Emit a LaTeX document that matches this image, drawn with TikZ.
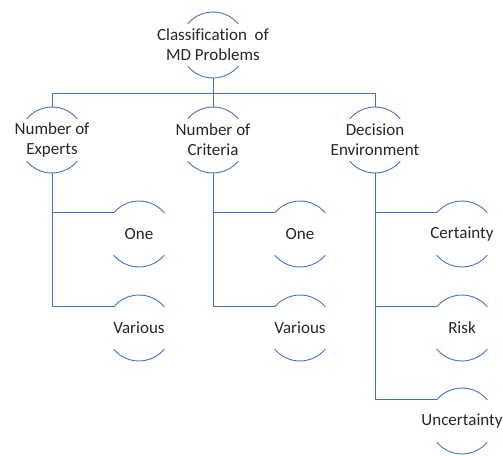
\documentclass[tikz,border=0pt]{standalone}
\usepackage{fontspec}
\setmainfont[Ligatures=NoCommon]{Carlito}
\usepackage{tikz}
\usetikzlibrary{arrows.meta,positioning}
\definecolor{linkblue}{HTML}{4472C4}
\definecolor{textgray}{HTML}{262626}

\tikzset{
  topic/.style={circle, minimum size=66pt, inner sep=0pt, outer sep=0pt},
  every label/.style={align=center, text=textgray, font=\fontsize{17}{20}\selectfont},
  link/.style={draw=linkblue, line width=0.9pt},
}

\begin{document}
\begin{tikzpicture}[x=1pt,y=1pt]
\useasboundingbox (0,0) rectangle (503,-455);

%Root
\node[topic, label={center:Classification\ \ of\\MD Problems}] (top) at (213,-45) {};

%Level 1
\node[topic, label={center:Number of\\Experts}] (exp) at (52,-140) {};
\node[topic, label={center:Number of\\Criteria}] (cri) at (213,-140) {};
\node[topic, label={center:Decision\\Environment}] (env) at (375,-140) {};

%Level 2, experts
\node[topic, label={center:One}] (exp1) at (139,-234) {};
\node[topic, label={center:Various}] (exp2) at (139,-328) {};

%Level 2, criteria
\node[topic, label={center:One}] (cri1) at (300,-234) {};
\node[topic, label={center:Various}] (cri2) at (300,-328) {};

%Level 2, environment
\node[topic, label={center:Certainty}] (env1) at (462,-234) {};
\node[topic, label={center:Risk}] (env2) at (462,-328) {};
\node[topic, label={center:Uncertainty}] (env3) at (462,-421) {};

%Upper and lower arcs of each circle
\foreach \n in {top,exp,cri,env,exp1,exp2,cri1,cri2,env1,env2,env3}{
  \draw[link] (\n.40) arc[start angle=40, end angle=140, radius=33pt];
  \draw[link] (\n.220) arc[start angle=220, end angle=320, radius=33pt];
}

%Root to level 1
\coordinate (bus) at (0,-93);
\draw[link] (top.south) -- (top.south |- bus);
\draw[link] (exp.north) |- (env.north |- bus) -- (env.north);
\draw[link] (cri.north) -- (cri.north |- bus);

%Level 1 to level 2
\draw[link] (exp.south) |- (exp2.140);
\draw[link] (exp.south |- exp1.140) -- (exp1.140);
\draw[link] (cri.south) |- (cri2.140);
\draw[link] (cri.south |- cri1.140) -- (cri1.140);
\draw[link] (env.south) |- (env3.140);
\draw[link] (env.south |- env1.140) -- (env1.140);
\draw[link] (env.south |- env2.140) -- (env2.140);
\end{tikzpicture}
\end{document}
